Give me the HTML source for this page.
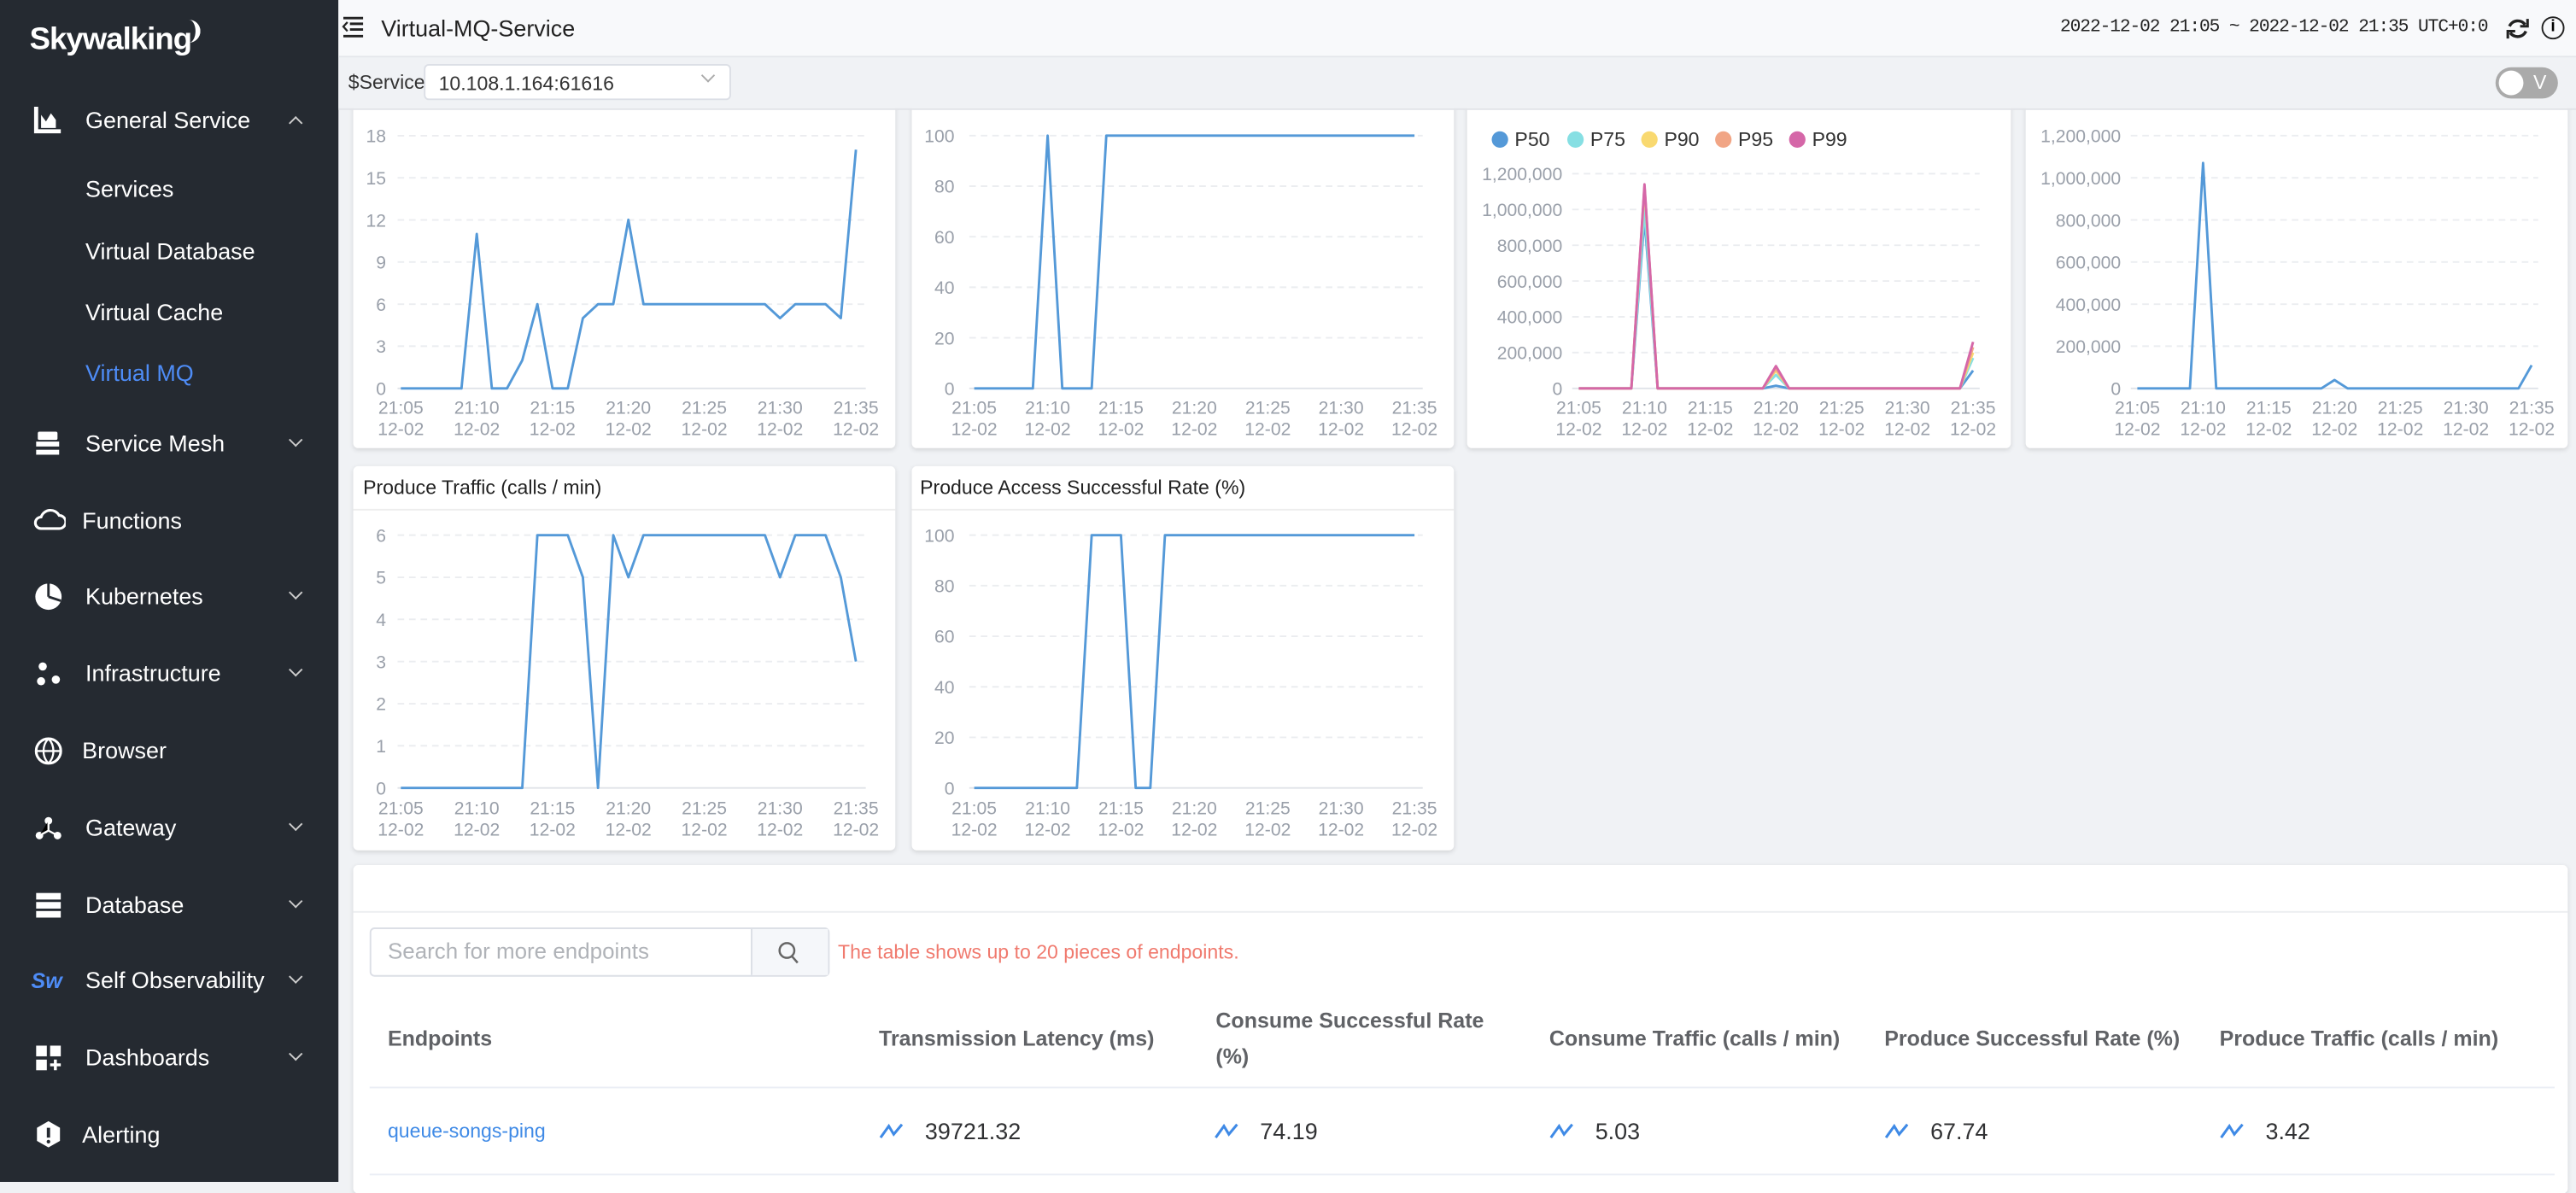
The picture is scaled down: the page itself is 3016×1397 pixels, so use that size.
<!DOCTYPE html>
<html><head><meta charset="utf-8"><style>
*{margin:0;padding:0;box-sizing:border-box}
html,body{width:3016px;height:1384px;overflow:hidden;background:#f0f2f5;font-family:"Liberation Sans",sans-serif}
#w{position:absolute;left:0;top:0;width:1568px;height:720px;transform:scale(1.92347,1.92222);transform-origin:0 0;background:#f0f2f5}
.a{position:absolute;white-space:nowrap}
#side{position:absolute;left:0;top:0;width:206px;height:720px;background:#252a31}
.si{position:absolute;left:52px;color:#fff;font-size:14px}
.ch{position:absolute;left:177px;width:6px;height:6px;border-left:1.2px solid #ccc;border-top:1.2px solid #ccc;transform:rotate(225deg)}
.ch.up{transform:rotate(45deg)}
.card{position:absolute;background:#fff;box-shadow:0 1px 3px rgba(0,0,0,.12);border-radius:3px}
.th{position:absolute;color:#606266;font-size:13px;font-weight:bold}
.val{position:absolute;color:#303133;font-size:14px}
</style></head><body><div id="w">
<div id="side">
<div class="a" style="left:18px;top:14px;color:#fff;font-size:19px;font-weight:bold;letter-spacing:-0.5px">Skywalking</div>
<div class="a" style="left:114px;top:12px;width:8px;height:14px;border-right:3px solid #fff;border-radius:0 10px 10px 0"></div>
<svg class="a" style="left:20px;top:64px" width="18" height="18"><path d="M2 1v15h15" stroke="#fff" stroke-width="2.5" fill="none"/><path d="M5 14V6l3 4 3-5 3 4v5z" fill="#fff"/></svg>
<div class="si" style="top:65px">General Service</div><div class="ch up" style="top:72px"></div>
<div class="si" style="top:107px">Services</div>
<div class="si" style="top:145px">Virtual Database</div>
<div class="si" style="top:182px">Virtual Cache</div>
<div class="si" style="top:219px;color:#4e8cf6">Virtual MQ</div>
<svg class="a" style="left:21px;top:262px" width="16" height="16"><rect x="2" y="1" width="12" height="5" rx="1" fill="#fff"/><rect x="1" y="7" width="14" height="3" fill="#fff"/><rect x="1" y="12" width="14" height="3" fill="#fff"/></svg>
<div class="si" style="top:262px">Service Mesh</div><div class="ch" style="top:265px"></div>
<svg class="a" style="left:20px;top:309px" width="20" height="16"><path d="M5 13h11a4 4 0 0 0 0-8 6 6 0 0 0-11 1 3.5 3.5 0 0 0 0 7z" stroke="#fff" stroke-width="1.6" fill="none"/></svg>
<div class="si" style="top:309px;left:50px">Functions</div>
<svg class="a" style="left:21px;top:355px" width="17" height="17"><circle cx="8.5" cy="8.5" r="8" fill="#fff"/><path d="M8.5 8.5V0M8.5 8.5L16 11" stroke="#252a31" stroke-width="1.5"/></svg>
<div class="si" style="top:355px">Kubernetes</div><div class="ch" style="top:358px"></div>
<svg class="a" style="left:21px;top:402px" width="17" height="17"><circle cx="5" cy="4" r="2.5" fill="#fff"/><circle cx="4" cy="13" r="2.5" fill="#fff"/><circle cx="13" cy="12" r="2.5" fill="#fff"/></svg>
<div class="si" style="top:402px">Infrastructure</div><div class="ch" style="top:405px"></div>
<svg class="a" style="left:21px;top:449px" width="17" height="17"><circle cx="8.5" cy="8.5" r="7.5" stroke="#fff" stroke-width="1.6" fill="none"/><path d="M1 8.5h15M8.5 1c-4 4-4 11 0 15M8.5 1c4 4 4 11 0 15" stroke="#fff" stroke-width="1.2" fill="none"/></svg>
<div class="si" style="top:449px;left:50px">Browser</div>
<svg class="a" style="left:21px;top:496px" width="17" height="17"><circle cx="8.5" cy="4" r="2.3" fill="#fff"/><circle cx="3" cy="13" r="2.3" fill="#fff"/><circle cx="14" cy="13" r="2.3" fill="#fff"/><path d="M8.5 4v6L3 13M8.5 10l5.5 3" stroke="#fff" stroke-width="1.2"/></svg>
<div class="si" style="top:496px">Gateway</div><div class="ch" style="top:499px"></div>
<svg class="a" style="left:21px;top:543px" width="17" height="16"><rect x="1" y="1" width="15" height="4" fill="#fff"/><rect x="1" y="6.5" width="15" height="4" fill="#fff"/><rect x="1" y="12" width="15" height="4" fill="#fff"/></svg>
<div class="si" style="top:543px">Database</div><div class="ch" style="top:546px"></div>
<div class="a" style="left:19px;top:590px;color:#4e8cf6;font-size:13px;font-weight:bold;font-style:italic">Sw</div>
<div class="si" style="top:589px">Self Observability</div><div class="ch" style="top:592px"></div>
<svg class="a" style="left:21px;top:636px" width="17" height="17"><rect x="1" y="1" width="6.5" height="6.5" fill="#fff"/><rect x="9.5" y="1" width="6.5" height="6.5" fill="#fff"/><rect x="1" y="9.5" width="6.5" height="6.5" fill="#fff"/><path d="M12.7 9.5v6.5M9.5 12.7H16" stroke="#fff" stroke-width="1.8"/></svg>
<div class="si" style="top:636px">Dashboards</div><div class="ch" style="top:639px"></div>
<svg class="a" style="left:21px;top:682px" width="17" height="18"><path d="M8.5 1l7 4v8l-7 4-7-4V5z" fill="#fff"/><path d="M8.5 5v6" stroke="#252a31" stroke-width="2"/><circle cx="8.5" cy="13.5" r="1.1" fill="#252a31"/></svg>
<div class="si" style="top:683px;left:50px">Alerting</div>
</div>
<div class="a" style="left:206px;top:0;width:1362px;height:35px;background:#f8f9fb;border-bottom:1px solid #e5e7eb"></div>
<svg class="a" style="left:208px;top:10px" width="14" height="13"><path d="M1 1h12M5 4.5h8M5 8h8M1 12h12" stroke="#222" stroke-width="1.5"/><path d="M3.5 3.5L1 6.2 3.5 9" stroke="#222" stroke-width="1.2" fill="none"/></svg>
<div class="a" style="left:232px;top:9px;font-size:14px;color:#222">Virtual-MQ-Service</div>
<div class="a" style="left:1254px;top:11px;font-size:11px;color:#222;font-family:'Liberation Mono',monospace;letter-spacing:-0.55px">2022-12-02 21:05 ~ 2022-12-02 21:35 UTC+0:0</div>
<svg class="a" style="left:1525px;top:10px" width="15" height="15"><path d="M12 5A5.5 5.5 0 0 0 2.5 6M3 10a5.5 5.5 0 0 0 9.5-1" stroke="#222" stroke-width="1.8" fill="none"/><path d="M13.5 1.5v4.5H9M1.5 13.5V9H6" stroke="#222" stroke-width="1.6" fill="none"/></svg>
<div class="a" style="left:1547px;top:10px;width:14px;height:14px;border:1.5px solid #222;border-radius:50%;font-size:10px;text-align:center;line-height:11px;font-weight:bold">i</div>
<div class="card" style="left:215px;top:62px;width:330px;height:211px"></div>
<div class="card" style="left:555px;top:62px;width:330px;height:211px"></div>
<div class="card" style="left:893px;top:62px;width:331px;height:211px"></div>
<div class="card" style="left:1233px;top:62px;width:330px;height:211px"></div>
<div class="card" style="left:215px;top:284px;width:330px;height:234px"><div style="height:27px;border-bottom:1px solid #eee;font-size:12px;color:#222;padding:6px 0 0 6px">Produce Traffic (calls / min)</div></div>
<div class="card" style="left:555px;top:284px;width:330px;height:234px"><div style="height:27px;border-bottom:1px solid #eee;font-size:12px;color:#222;padding:6px 0 0 5px">Produce Access Successful Rate (%)</div></div>
<div class="a" style="left:206px;top:35px;width:1362px;height:31px;background:#f0f2f5"></div>
<div class="a" style="left:212px;top:43px;font-size:12px;color:#333">$Service</div>
<div class="a" style="left:258px;top:39px;width:187px;height:22px;background:#fff;border:1px solid #dcdfe6;border-radius:3px;font-size:12px;color:#333;padding:4px 0 0 8px">10.108.1.164:61616<span style="position:absolute;right:10px;top:3px;width:6px;height:6px;border-left:1px solid #aaa;border-top:1px solid #aaa;transform:rotate(225deg)"></span></div>
<div class="a" style="left:1519px;top:41px;width:38px;height:19px;border-radius:10px;background:#aaa"><div style="position:absolute;left:2px;top:2px;width:15px;height:15px;border-radius:50%;background:#fff"></div><span style="position:absolute;left:23px;top:2px;color:#fff;font-size:12px">V</span></div>
<div class="a" style="left:206px;top:66px;width:1362px;height:1px;background:#e2e4e8"></div>

<svg class="a" style="left:0;top:0" width="1568" height="720" font-family="Liberation Sans" font-size="11" fill="#9aa0aa">
<g stroke="#ebedf0" stroke-dasharray="4 3" stroke-width="1">
<path d="M242 82.7H527M242 108.3H527M242 134H527M242 159.6H527M242 185.3H527M242 210.9H527"/>
<path d="M590 82.6H866M590 113.4H866M590 144.2H866M590 175H866M590 205.8H866"/>
<path d="M957 105.8H1205M957 127.6H1205M957 149.4H1205M957 171.2H1205M957 193H1205M957 214.8H1205"/>
<path d="M1297 82.6H1545M1297 108.3H1545M1297 134H1545M1297 159.6H1545M1297 185.3H1545M1297 210.9H1545"/>
<path d="M242 326H527M242 351.7H527M242 377.3H527M242 403H527M242 428.7H527M242 454.3H527"/>
<path d="M590 326H866M590 356.8H866M590 387.6H866M590 418.4H866M590 449.2H866"/>
</g>
<g stroke="#e0e3e8" stroke-width="1">
<path d="M242 236.6H527M590 236.6H866M957 236.6H1205M1297 236.6H1545M242 480H527M590 480H866"/>
</g>
<g text-anchor="end">
<text x="235" y="86.7">18</text><text x="235" y="112.3">15</text><text x="235" y="138">12</text><text x="235" y="163.6">9</text><text x="235" y="189.3">6</text><text x="235" y="214.9">3</text><text x="235" y="240.6">0</text>
<text x="581" y="86.6">100</text><text x="581" y="117.4">80</text><text x="581" y="148.2">60</text><text x="581" y="179">40</text><text x="581" y="209.8">20</text><text x="581" y="240.6">0</text>
<text x="951" y="109.8">1,200,000</text><text x="951" y="131.6">1,000,000</text><text x="951" y="153.4">800,000</text><text x="951" y="175.2">600,000</text><text x="951" y="197">400,000</text><text x="951" y="218.8">200,000</text><text x="951" y="240.6">0</text>
<text x="1291" y="86.6">1,200,000</text><text x="1291" y="112.3">1,000,000</text><text x="1291" y="138">800,000</text><text x="1291" y="163.6">600,000</text><text x="1291" y="189.3">400,000</text><text x="1291" y="214.9">200,000</text><text x="1291" y="240.6">0</text>
<text x="235" y="330">6</text><text x="235" y="355.7">5</text><text x="235" y="381.3">4</text><text x="235" y="407">3</text><text x="235" y="432.7">2</text><text x="235" y="458.3">1</text><text x="235" y="484">0</text>
<text x="581" y="330">100</text><text x="581" y="360.8">80</text><text x="581" y="391.6">60</text><text x="581" y="422.4">40</text><text x="581" y="453.2">20</text><text x="581" y="484">0</text>
</g>
<g text-anchor="middle">
<text x="244" y="252">21:05</text><text x="290.2" y="252">21:10</text><text x="336.3" y="252">21:15</text><text x="382.5" y="252">21:20</text><text x="428.7" y="252">21:25</text><text x="474.8" y="252">21:30</text><text x="521" y="252">21:35</text>
<text x="244" y="265">12-02</text><text x="290.2" y="265">12-02</text><text x="336.3" y="265">12-02</text><text x="382.5" y="265">12-02</text><text x="428.7" y="265">12-02</text><text x="474.8" y="265">12-02</text><text x="521" y="265">12-02</text>
<text x="593" y="252">21:05</text><text x="637.7" y="252">21:10</text><text x="682.3" y="252">21:15</text><text x="727" y="252">21:20</text><text x="771.7" y="252">21:25</text><text x="816.3" y="252">21:30</text><text x="861" y="252">21:35</text>
<text x="593" y="265">12-02</text><text x="637.7" y="265">12-02</text><text x="682.3" y="265">12-02</text><text x="727" y="265">12-02</text><text x="771.7" y="265">12-02</text><text x="816.3" y="265">12-02</text><text x="861" y="265">12-02</text>
<text x="961" y="252">21:05</text><text x="1001" y="252">21:10</text><text x="1041" y="252">21:15</text><text x="1081" y="252">21:20</text><text x="1121" y="252">21:25</text><text x="1161" y="252">21:30</text><text x="1201" y="252">21:35</text>
<text x="961" y="265">12-02</text><text x="1001" y="265">12-02</text><text x="1041" y="265">12-02</text><text x="1081" y="265">12-02</text><text x="1121" y="265">12-02</text><text x="1161" y="265">12-02</text><text x="1201" y="265">12-02</text>
<text x="1301" y="252">21:05</text><text x="1341" y="252">21:10</text><text x="1381" y="252">21:15</text><text x="1421" y="252">21:20</text><text x="1461" y="252">21:25</text><text x="1501" y="252">21:30</text><text x="1541" y="252">21:35</text>
<text x="1301" y="265">12-02</text><text x="1341" y="265">12-02</text><text x="1381" y="265">12-02</text><text x="1421" y="265">12-02</text><text x="1461" y="265">12-02</text><text x="1501" y="265">12-02</text><text x="1541" y="265">12-02</text>
<text x="244" y="496">21:05</text><text x="290.2" y="496">21:10</text><text x="336.3" y="496">21:15</text><text x="382.5" y="496">21:20</text><text x="428.7" y="496">21:25</text><text x="474.8" y="496">21:30</text><text x="521" y="496">21:35</text>
<text x="244" y="509">12-02</text><text x="290.2" y="509">12-02</text><text x="336.3" y="509">12-02</text><text x="382.5" y="509">12-02</text><text x="428.7" y="509">12-02</text><text x="474.8" y="509">12-02</text><text x="521" y="509">12-02</text>
<text x="593" y="496">21:05</text><text x="637.7" y="496">21:10</text><text x="682.3" y="496">21:15</text><text x="727" y="496">21:20</text><text x="771.7" y="496">21:25</text><text x="816.3" y="496">21:30</text><text x="861" y="496">21:35</text>
<text x="593" y="509">12-02</text><text x="637.7" y="509">12-02</text><text x="682.3" y="509">12-02</text><text x="727" y="509">12-02</text><text x="771.7" y="509">12-02</text><text x="816.3" y="509">12-02</text><text x="861" y="509">12-02</text>
</g>
<g fill="none" stroke-width="1.5" stroke-linejoin="round">
<polyline stroke="#5499d8" points="244,236.6 280.9,236.6 290.2,142.5 299.4,236.6 308.6,236.6 317.9,219.5 327.1,185.3 336.3,236.6 345.6,236.6 354.8,193.8 364,185.3 373.3,185.3 382.5,133.9 391.7,185.3 465.6,185.3 474.8,193.8 484.1,185.3 502.5,185.3 511.8,193.8 521,91.2"/>
<polyline stroke="#5499d8" points="593,236.6 628.7,236.6 637.7,82.6 646.6,236.6 664.5,236.6 673.4,82.6 861,82.6"/>
<polyline stroke="#5499d8" points="961,236.6 993,236.6 1001,133 1009,236.6 1073,236.6 1081,235 1089,236.6 1193,236.6 1201,225.7"/>
<polyline stroke="#86dfe3" points="961,236.6 993,236.6 1001,127.6 1009,236.6 1073,236.6 1081,228.4 1089,236.6 1193,236.6 1201,218.1"/>
<polyline stroke="#f9d970" points="961,236.6 993,236.6 1001,114.5 1009,236.6 1073,236.6 1081,225.7 1089,236.6 1193,236.6 1201,214.8"/>
<polyline stroke="#f1a585" points="961,236.6 993,236.6 1001,113.4 1009,236.6 1073,236.6 1081,224.6 1089,236.6 1193,236.6 1201,211.5"/>
<polyline stroke="#d567a8" points="961,236.6 993,236.6 1001,112.3 1009,236.6 1073,236.6 1081,223 1089,236.6 1193,236.6 1201,208.3"/>
<polyline stroke="#5499d8" points="1301,236.6 1333,236.6 1341,99.3 1349,236.6 1413,236.6 1421,231.5 1429,236.6 1533,236.6 1541,222.5"/>
<polyline stroke="#5499d8" points="244,480 317.9,480 327.1,326 345.6,326 354.8,351.7 364,480 373.3,326 382.5,351.7 391.7,326 465.6,326 474.8,351.7 484.1,326 502.5,326 511.8,351.7 521,403"/>
<polyline stroke="#5499d8" points="593,480 655.5,480 664.5,326 682.3,326 691.3,480 700.2,480 709.1,326 861,326"/>
</g>
<g font-size="12" fill="#333">
<circle cx="913" cy="85" r="5" fill="#5499d8"/><text x="922" y="89">P50</text>
<circle cx="959" cy="85" r="5" fill="#86dfe3"/><text x="968" y="89">P75</text>
<circle cx="1004" cy="85" r="5" fill="#f9d970"/><text x="1013" y="89">P90</text>
<circle cx="1049" cy="85" r="5" fill="#f1a585"/><text x="1058" y="89">P95</text>
<circle cx="1094" cy="85" r="5" fill="#d567a8"/><text x="1103" y="89">P99</text>
</g>
</svg>

<div class="card" style="left:215px;top:527px;width:1348px;height:200px"></div>
<div class="a" style="left:215px;top:555px;width:1348px;height:1px;background:#eceef1"></div>
<div class="a" style="left:225px;top:565px;width:280px;height:30px;border:1px solid #dcdfe6;border-radius:3px;background:#fff"></div>
<div class="a" style="left:457px;top:566px;width:47px;height:28px;background:#f5f7fa;border-left:1px solid #dcdfe6"></div>
<svg class="a" style="left:473px;top:573px" width="14" height="15"><circle cx="6" cy="6" r="4.5" stroke="#666" stroke-width="1.3" fill="none"/><path d="M9 9.5l3.5 4" stroke="#666" stroke-width="1.3"/></svg>
<div class="a" style="left:236px;top:572px;font-size:13.5px;color:#b0b3b8">Search for more endpoints</div>
<div class="a" style="left:510px;top:573px;font-size:12px;color:#f07a6e">The table shows up to 20 pieces of endpoints.</div>
<div class="th" style="left:236px;top:625px">Endpoints</div>
<div class="th" style="left:535px;top:625px">Transmission Latency (ms)</div>
<div class="th" style="left:740px;top:611px;line-height:22px">Consume Successful Rate<br>(%)</div>
<div class="th" style="left:943px;top:625px">Consume Traffic (calls / min)</div>
<div class="th" style="left:1147px;top:625px">Produce Successful Rate (%)</div>
<div class="th" style="left:1351px;top:625px">Produce Traffic (calls / min)</div>
<div class="a" style="left:225px;top:662px;width:1330px;height:1px;background:#ebeef5"></div>
<div class="a" style="left:225px;top:715px;width:1330px;height:1px;background:#ebeef5"></div>
<div class="a" style="left:236px;top:682px;font-size:12px;color:#3f8ae6">queue-songs-ping</div>
<svg class="a" style="left:535px;top:683px" width="16" height="12"><path d="M1 10l5-7 3 5 5-6" stroke="#3f8ae6" stroke-width="1.6" fill="none"/></svg><div class="val" style="left:563px;top:681px">39721.32</div>
<svg class="a" style="left:739px;top:683px" width="16" height="12"><path d="M1 10l5-7 3 5 5-6" stroke="#3f8ae6" stroke-width="1.6" fill="none"/></svg><div class="val" style="left:767px;top:681px">74.19</div>
<svg class="a" style="left:943px;top:683px" width="16" height="12"><path d="M1 10l5-7 3 5 5-6" stroke="#3f8ae6" stroke-width="1.6" fill="none"/></svg><div class="val" style="left:971px;top:681px">5.03</div>
<svg class="a" style="left:1147px;top:683px" width="16" height="12"><path d="M1 10l5-7 3 5 5-6" stroke="#3f8ae6" stroke-width="1.6" fill="none"/></svg><div class="val" style="left:1175px;top:681px">67.74</div>
<svg class="a" style="left:1351px;top:683px" width="16" height="12"><path d="M1 10l5-7 3 5 5-6" stroke="#3f8ae6" stroke-width="1.6" fill="none"/></svg><div class="val" style="left:1379px;top:681px">3.42</div>
</div></body></html>
